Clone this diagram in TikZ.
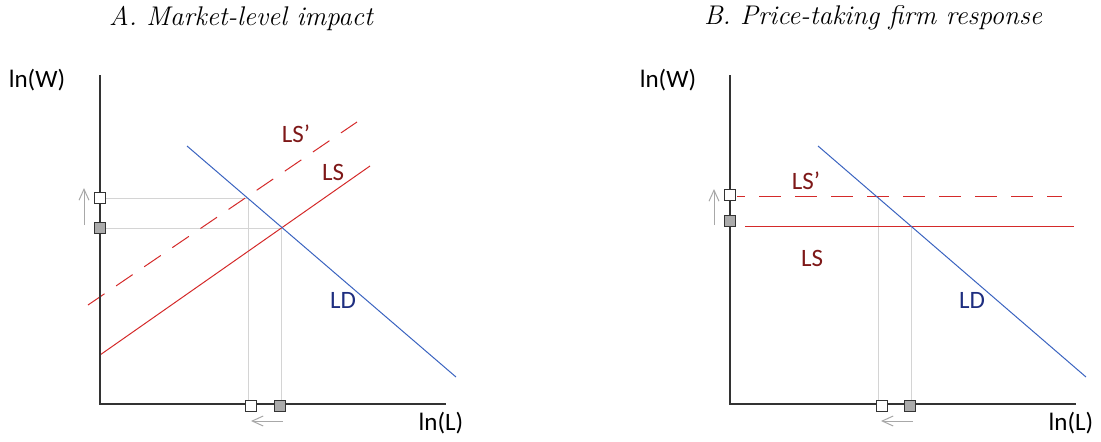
\documentclass[tikz,border=0pt]{standalone}
\usepackage{fontspec}
\newfontfamily\lab{Carlito}
\usetikzlibrary{arrows.meta}
\definecolor{axisc}{HTML}{333333}
\definecolor{guidec}{HTML}{D4D4D4}
\definecolor{arrc}{HTML}{A8A8A8}
\definecolor{supc}{HTML}{D42A2A}
\definecolor{demc}{HTML}{3A63C0}
\definecolor{supt}{HTML}{7E1818}
\definecolor{demt}{HTML}{1E2E80}
\definecolor{markg}{HTML}{ABABAB}
\tikzset{
  axisline/.style={draw=axisc, line width=1.4pt},
  guide/.style={draw=guidec, line width=1pt},
  supply/.style={draw=supc, line width=1pt},
  supplyd/.style={draw=supc, line width=1pt, dash pattern=on 20pt off 14pt},
  demand/.style={draw=demc, line width=1pt},
  shift arrow/.style={draw=arrc, line width=1pt, -{Straight Barb[length=11pt,width=10pt,line width=1pt]}},
  mk/.style={draw=axisc, line width=1pt, minimum size=11pt, inner sep=0pt, rectangle},
  mkw/.style={mk, fill=white},
  mkg/.style={mk, fill=markg},
  axlab/.style={font=\lab\fontsize{25}{29}\selectfont, text=black},
  slab/.style={font=\lab\fontsize{25}{29}\selectfont, text=supt},
  dlab/.style={font=\lab\fontsize{25}{29}\selectfont, text=demt},
  ttl/.style={font=\fontsize{27}{31}\selectfont\itshape}
}
\begin{document}
\begin{tikzpicture}[x=1pt,y=-1pt]
\useasboundingbox (0,0) rectangle (1101,442);
% ---------- Panel A ----------
\node[ttl] (tA) at (241,18) {A.\ Market-level impact};
\coordinate (oA) at (100,404);
\coordinate (yA) at (100,75);
\coordinate (xA) at (446,404);
\coordinate (ldA1) at (187,146);
\coordinate (ldA2) at (456,377);
\coordinate (lsA1) at (100,355);
\coordinate (lsA2) at (370,166);
\coordinate (lspA1) at (88,305);
\coordinate (lspA2) at (357,122);
\coordinate (eA) at (281,228);
\coordinate (epA) at (248,198);
\draw[guide] (eA) -- (oA -| eA);
\draw[guide] (epA) -- (oA -| epA);
\draw[guide] (eA) -- (oA |- eA);
\draw[guide] (epA) -- (oA |- epA);
\draw[supplyd] (lspA1) -- (lspA2);
\draw[supply] (lsA1) -- (lsA2);
\draw[demand] (ldA1) -- (ldA2);
\draw[axisline] (yA) -- (oA) -- (xA);
\node[mkw] (mwyA) at (100,198) {};
\node[mkg] (mgyA) at (100,228) {};
\node[mkw] (mwxA) at (251,406) {};
\node[mkg] (mgxA) at (280,406) {};
\coordinate (uaA1) at (84,225);
\coordinate (uaA2) at (84,188);
\draw[shift arrow] (uaA1) -- (uaA2);
\coordinate (laA1) at (283,421);
\coordinate (laA2) at (251,421);
\draw[shift arrow] (laA1) -- (laA2);
\node[axlab] (lwA) at (37,80) {ln(W)};
\node[axlab] (llA) at (441,423) {ln(L)};
\node[slab] (lspA) at (296,134) {LS’};
\node[slab] (lsA) at (333,172) {LS};
\node[dlab] (ldA) at (343,300) {LD};
% ---------- Panel B ----------
\node[ttl] (tB) at (873,18) {B.\ Price-taking firm response};
\coordinate (oB) at (730,404);
\coordinate (yB) at (730,75);
\coordinate (xB) at (1076,404);
\coordinate (ldB1) at (818,146);
\coordinate (ldB2) at (1086,377);
\coordinate (lsB1) at (745,226);
\coordinate (lsB2) at (1074,226);
\coordinate (lspB1) at (737,196);
\coordinate (lspB2) at (1062,196);
\coordinate (eB) at (911,226);
\coordinate (epB) at (878,196);
\draw[guide] (eB) -- (oB -| eB);
\draw[guide] (epB) -- (oB -| epB);
\draw[supply, dash pattern=on 8pt off 14pt on 22pt off 14pt on 22pt off 14pt on 22pt off 14pt on 22pt off 14pt on 22pt off 14pt on 22pt off 14pt on 22pt off 14pt on 22pt off 14pt on 22pt off 14pt] (lspB1) -- (lspB2);
\draw[supply] (lsB1) -- (lsB2);
\draw[demand] (ldB1) -- (ldB2);
\draw[axisline] (yB) -- (oB) -- (xB);
\node[mkw] (mwyB) at (730,195) {};
\node[mkg] (mgyB) at (730,221) {};
\node[mkw] (mwxB) at (882,406) {};
\node[mkg] (mgxB) at (910,406) {};
\coordinate (uaB1) at (714,225);
\coordinate (uaB2) at (714,189);
\draw[shift arrow] (uaB1) -- (uaB2);
\coordinate (laB1) at (913,421);
\coordinate (laB2) at (881,421);
\draw[shift arrow] (laB1) -- (laB2);
\node[axlab] (lwB) at (668,80) {ln(W)};
\node[axlab] (llB) at (1071,423) {ln(L)};
\node[slab] (lspB) at (806,181) {LS’};
\node[slab] (lsB) at (812,258) {LS};
\node[dlab] (ldB) at (972,300) {LD};
\end{tikzpicture}
\end{document}
